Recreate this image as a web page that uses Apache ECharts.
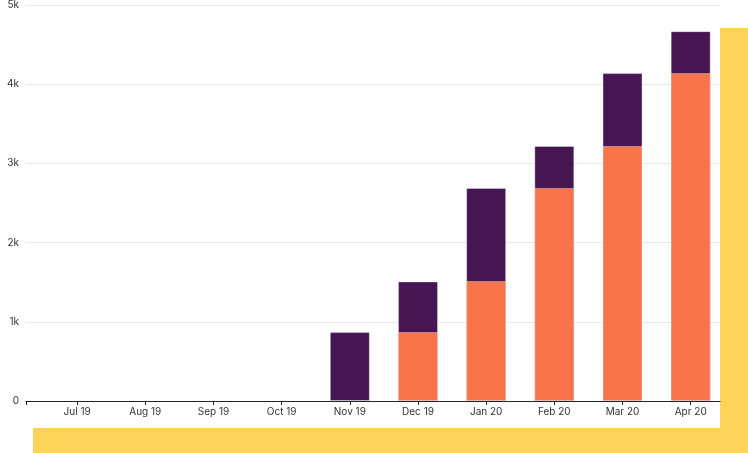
<!DOCTYPE html>
<html>
<head>
<meta charset="utf-8">
<script src="https://cdn.jsdelivr.net/npm/echarts@6/dist/echarts.min.js"></script>
<style>
  html, body { margin: 0; padding: 0; background: #fff; }
  #chart { width: 748px; height: 453px; }
</style>
</head>
<body>
<div id="chart"></div>
<script>
// month labels on the x axis
const months = ['Jul 19', 'Aug 19', 'Sep 19', 'Oct 19', 'Nov 19', 'Dec 19', 'Jan 20', 'Feb 20', 'Mar 20', 'Apr 20']
// bottom (orange) and top (purple) stacked values
const previous = [0, 0, 0, 0, 0, 870, 1515, 2690, 3220, 4140]
const added = [0, 0, 0, 0, 870, 640, 1175, 530, 920, 530]
const yTicks = [0, 1000, 2000, 3000, 4000, 5000]

const chart = echarts.init(document.getElementById('chart'))
const idx = months.map((m, i) => i)
const xMin = -0.75
const xMax = 9.43

// stack by hand: purple bar spans the full total, orange drawn over its lower part
const totals = previous.map((v, i) => v + added[i])
const toPoints = arr => arr.map((v, i) => [i, v]).filter(p => p[1] > 0)

chart.setOption({
  animation: false,
  textStyle: { fontFamily: 'Inter' },
  graphic: [
    { type: 'rect', z: -10, shape: { x: 33, y: 428, width: 715, height: 25 }, style: { fill: '#FDD35A' } },
    { type: 'rect', z: -10, shape: { x: 720, y: 28, width: 28, height: 425 }, style: { fill: '#FDD35A' } }
  ],
  grid: { left: 26, right: 28, top: 5, bottom: 52 },
  xAxis: {
    type: 'value',
    min: xMin,
    max: xMax,
    splitLine: { show: false },
    axisLine: { show: true, lineStyle: { color: '#222', width: 1.2 } },
    axisTick: { show: true, customValues: [xMin].concat(idx), length: 4, lineStyle: { color: '#222' } },
    axisLabel: {
      customValues: idx,
      color: '#333',
      fontSize: 10,
      margin: 6,
      formatter: v => months[Math.round(v)]
    }
  },
  yAxis: {
    type: 'value',
    min: 0,
    max: 5000,
    interval: 1000,
    axisLine: { show: false },
    axisTick: { show: false },
    splitLine: { lineStyle: { color: '#e8e8e8' } },
    axisLabel: {
      color: '#333',
      fontSize: 10,
      margin: 7,
      formatter: v => (yTicks.indexOf(v) > 0 ? v / 1000 + 'k' : '0')
    }
  },
  series: [{
    name: 'added',
    type: 'bar',
    barWidth: 40,
    barGap: '-100%',
    itemStyle: { color: '#461653', borderColor: 'rgba(255,255,255,0.35)', borderWidth: 1 },
    data: toPoints(totals)
  }, {
    name: 'previous',
    type: 'bar',
    barWidth: 40,
    barGap: '-100%',
    itemStyle: { color: '#F9744B', borderColor: 'rgba(255,255,255,0.35)', borderWidth: 1 },
    data: toPoints(previous)
  }]
})
</script>
</body>
</html>
